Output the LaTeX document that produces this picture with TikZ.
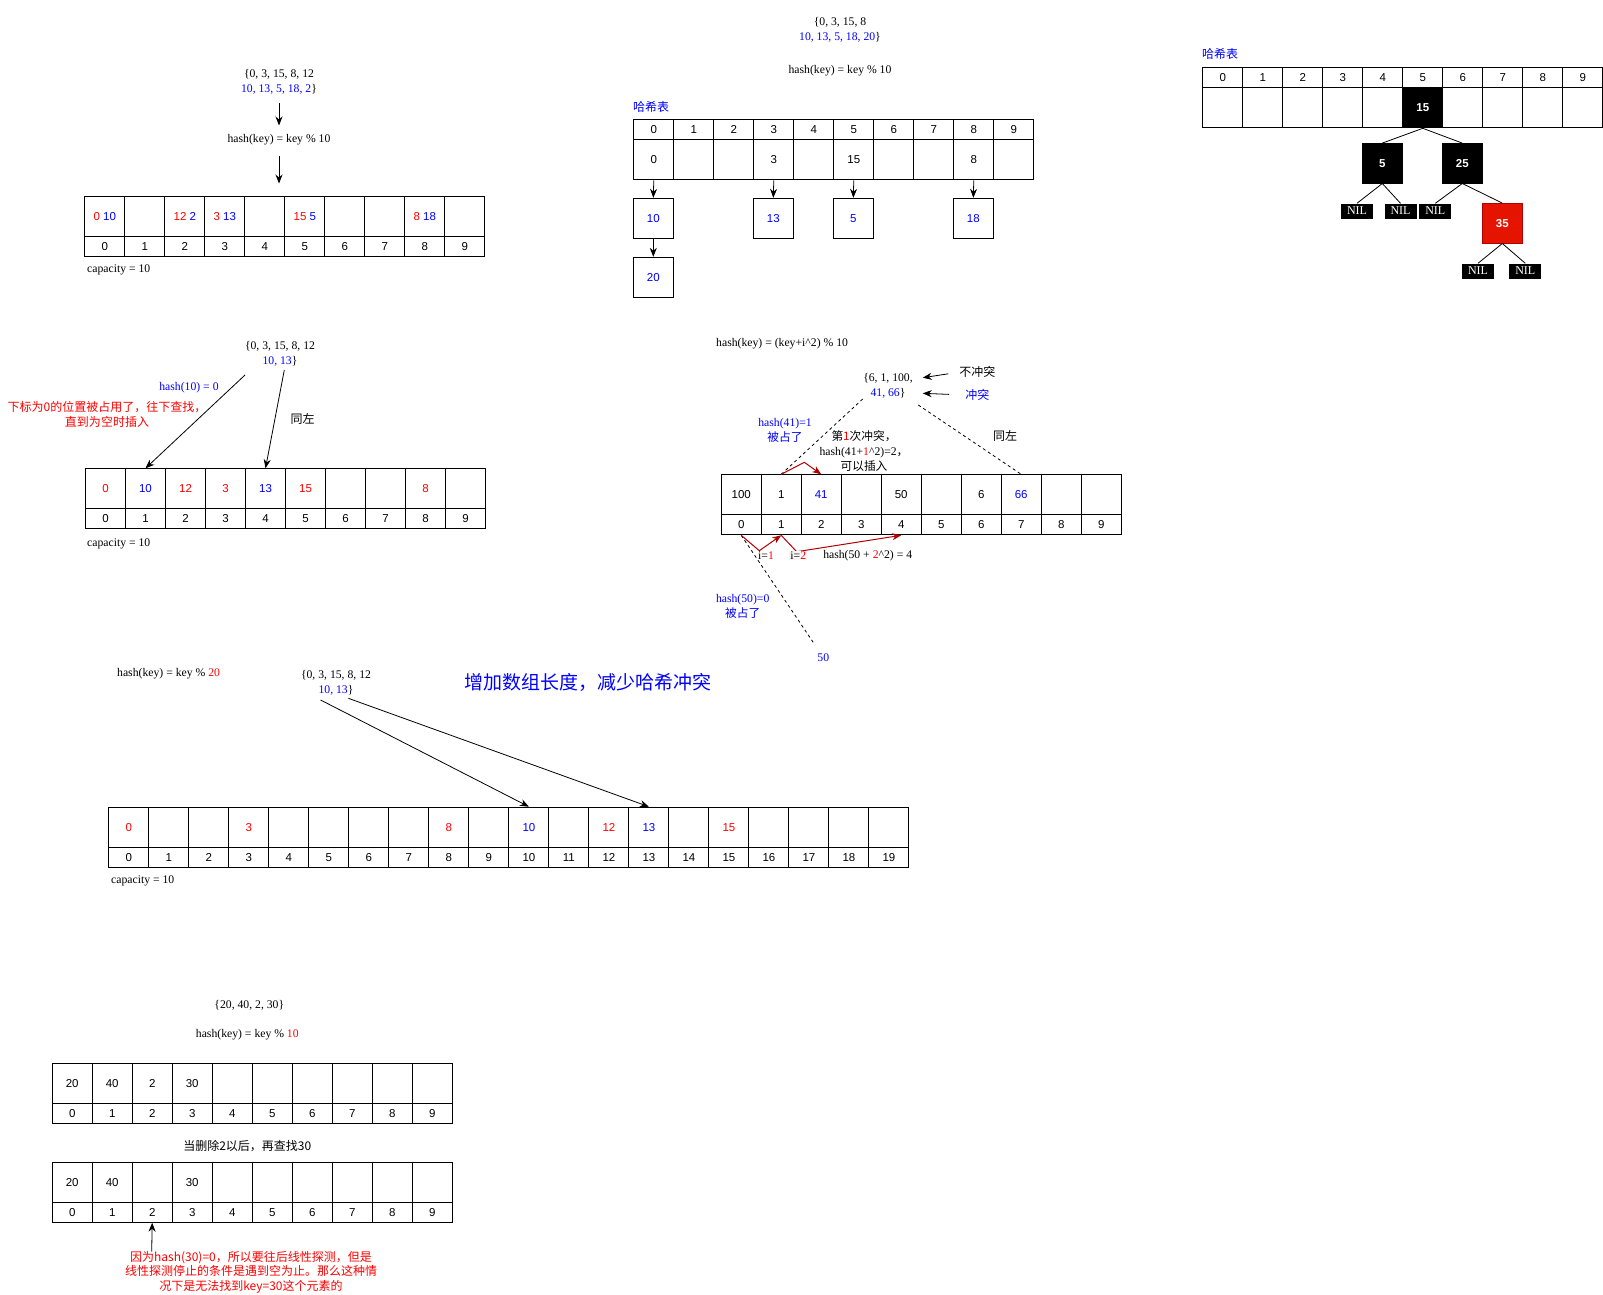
\documentclass[tikz,border=0pt]{standalone}
\usepackage{fontspec}
\setmainfont{Liberation Serif}
\setsansfont{Liberation Sans}
\newfontfamily\cjk{Noto Sans CJK SC}
\usetikzlibrary{arrows.meta}
\definecolor{dBlue}{HTML}{0000FF}
\definecolor{dRed}{HTML}{FF0000}
\definecolor{dkRed}{HTML}{B20000}
\definecolor{rbRed}{HTML}{E51400}
\newcommand\tR[1]{\textcolor{dRed}{#1}}
\newcommand\tB[1]{\textcolor{dBlue}{#1}}
\tikzset{
  lbl/.style={font=\fontsize{11.7}{15}\selectfont, inner sep=1pt, align=center},
  cn/.style={font=\fontsize{12}{14.5}\cjk, inner sep=1pt, align=center},
  vcell/.style={draw, line width=1pt, minimum width=40pt, minimum height=40pt, inner sep=0pt, anchor=north west, font=\sffamily\fontsize{11.5}{14}\selectfont},
  icell/.style={vcell, minimum height=20pt},
  cbox/.style={vcell, anchor=center},
  blk/.style={fill=black, draw=black, text=white, minimum width=40pt, minimum height=40pt, inner sep=0pt, font=\sffamily\bfseries\fontsize{11.5}{14}\selectfont},
  nil/.style={fill=black, text=white, minimum width=32pt, minimum height=15pt, inner sep=0pt, font=\fontsize{12}{12}\selectfont},
  arr/.style={-{Stealth[length=9pt,width=7pt]}, line width=0.8pt},
  rarr/.style={-{Stealth[length=9pt,width=7pt]}, line width=1pt, draw=dkRed},
  dsh/.style={line width=0.8pt, dash pattern=on 3pt off 3pt},
  edge/.style={line width=0.8pt}
}
\begin{document}
\begin{tikzpicture}[x=1pt,y=-1pt]
\fill[white] (0,0) rectangle (1603,1294);
\useasboundingbox (0,0) rectangle (1603,1294);

% ---------------- Section A ----------------
\node[lbl] (setA) at (279,81.5) {\{0, 3, 15, 8, 12\\\tB{10, 13, 5, 18, 2}\}};
\node[lbl] (hashA) at (279,140) {hash(key) = key \% 10};
\coordinate (tA) at (279,183.5);
\draw[arr, shorten <=8pt, shorten >=8pt] (setA) -- (hashA);
\draw[arr, shorten <=9pt] (hashA) -- (tA);
\foreach \i/\v in {0/{\tR{0} \tB{10}},1/{},2/{\tR{12} \tB{2}},3/{\tR{3} \tB{13}},4/{},5/{\tR{15} \tB{5}},6/{},7/{},8/{\tR{8} \tB{18}},9/{}}{
  \node[vcell] (Av\i) at ({84.3+40*\i},195.7) {\v};
  \node[icell] (Ai\i) at ({84.3+40*\i},235.7) {\i};
}
\node[lbl, anchor=west] (capA) at (86,270) {capacity = 10};

% ---------------- Section B ----------------
\node[lbl] (setB) at (840,30) {\{0, 3, 15, 8\\\tB{10, 13, 5, 18, 20}\}};
\node[lbl] (hashB) at (840,71) {hash(key) = key \% 10};
\node[cn, anchor=west, text=dBlue] (titleB) at (632,107) {哈希表};
\foreach \i/\v in {0/0,1/{},2/{},3/3,4/{},5/15,6/{},7/{},8/8,9/{}}{
  \node[icell] (Bi\i) at ({633.3+40*\i},119.3) {\i};
  \node[vcell] (Bv\i) at ({633.3+40*\i},139.3) {\v};
}
\node[cbox] (Bc10) at (653.3,218.3) {\tB{10}};
\node[cbox] (Bc20) at (653.3,277.3) {\tB{20}};
\node[cbox] (Bc13) at (773.3,218.3) {\tB{13}};
\node[cbox] (Bc5) at (853.3,218.3) {\tB{5}};
\node[cbox] (Bc18) at (973.3,218.3) {\tB{18}};
\draw[arr] (Bv0.south) -- (Bc10.north);
\draw[arr] (Bc10.south) -- (Bc20.north);
\draw[arr] (Bv3.south) -- (Bc13.north);
\draw[arr] (Bv5.south) -- (Bc5.north);
\draw[arr] (Bv8.south) -- (Bc18.north);

% ---------------- Section C ----------------
\node[cn, anchor=west, text=dBlue] (titleC) at (1201,54) {哈希表};
\foreach \i in {0,...,9}{
  \node[icell] (Ci\i) at ({1202.3+40*\i},67.3) {\i};
}
\foreach \i in {0,1,2,3,4,6,7,8,9}{
  \node[vcell] (Cv\i) at ({1202.3+40*\i},87.3) {};
}
\node[vcell, blk] (Cv5) at (1402.3,87.3) {15};
\node[blk] (t5) at (1382.3,163.3) {5};
\node[blk] (t25) at (1462.3,163.3) {25};
\node[blk, fill=rbRed, draw=dkRed] (t35) at (1502.3,223.3) {35};
\node[nil] (nil1) at (1357,211) {NIL};
\node[nil] (nil2) at (1400.5,211) {NIL};
\node[nil] (nil3) at (1435.3,211) {NIL};
\node[nil] (nil4) at (1478,271) {NIL};
\node[nil] (nil5) at (1525.3,271) {NIL};
\draw[edge] (Cv5.south) -- (t5.north);
\draw[edge] (Cv5.south) -- (t25.north);
\draw[edge] (t5.south) -- (nil1.north);
\draw[edge] (t5.south) -- (nil2.north);
\draw[edge] (t25.south) -- (nil3.north);
\draw[edge] (t25.south) -- (t35.north);
\draw[edge] (t35.south) -- (nil4.north);
\draw[edge] (t35.south) -- (nil5.north);

% ---------------- Section D ----------------
\node[lbl] (setD) at (280,354) {\{0, 3, 15, 8, 12\\\tB{10, 13}\}};
\node[lbl, text=dBlue] (h10) at (189,387.5) {hash(10) = 0};
\node[cn, text=dRed] (noteD) at (107,414.5) {下标为0的位置被占用了，往下查找，\\直到为空时插入};
\node[cn] (sameD) at (302.7,419) {同左};
\foreach \i/\v in {0/\tR{0},1/\tB{10},2/\tR{12},3/\tR{3},4/\tB{13},5/\tR{15},6/{},7/{},8/\tR{8},9/{}}{
  \node[vcell] (Dv\i) at ({85+40*\i},468.3) {\v};
  \node[icell] (Di\i) at ({85+40*\i},508.3) {\i};
}
\coordinate (sD1) at (245,375);
\coordinate (sD2) at (284.3,370);
\draw[arr] (sD1) -- (Dv1.north);
\draw[arr] (sD2) -- (Dv4.north);
\node[lbl, anchor=west] (capD) at (86,543.5) {capacity = 10};

% ---------------- Section E ----------------
\node[lbl, anchor=west] (hashE) at (715,343.5) {hash(key) = (key+i\textasciicircum2) \% 10};
\node[lbl] (setE) at (888,386) {\{6, 1, 100,\\\tB{41, 66}\}};
\node[cn] (nc) at (977.3,372.3) {不冲突};
\node[cn, text=dBlue] (cf) at (977.3,395) {冲突};
\coordinate (eNC) at (922.7,377.7);
\coordinate (eCF) at (922.7,393.3);
\draw[arr, shorten <=10pt] (nc.west) -- (eNC);
\draw[arr, shorten <=15pt] (cf.west) -- (eCF);
\node[lbl, text=dBlue] (h41) at (785,430.8) {hash(41)=1\\{\cjk 被占了}};
\node[lbl] (firstE) at (864,451) {{\cjk 第\tR{1}次冲突，}\\hash(41+\tR{1}\textasciicircum2)=2{\cjk ，}\\{\cjk 可以插入}};
\node[cn] (sameE) at (1005,435.7) {同左};
\foreach \i/\v in {0/100,1/1,2/\tB{41},3/{},4/50,5/{},6/6,7/\tB{66},8/{},9/{}}{
  \node[vcell] (Ev\i) at ({720.7+40*\i},474.3) {\v};
  \node[icell] (Ei\i) at ({720.7+40*\i},514.3) {\i};
}
\coordinate (dE1) at (862.7,399);
\coordinate (dE2) at (918.3,405);
\coordinate (dE3) at (815,645);
\draw[dsh] (dE1) -- (Ev1.north);
\draw[dsh] (dE2) -- (Ev7.north);
\draw[dsh] (Ei0.south) -- (dE3);
\draw[rarr] (Ev1.north) -- (804.3,462.3) -- (Ev2.north);
\draw[rarr] (Ei0.south) -- (759.3,550.7) -- (Ei1.south);
\draw[rarr] (Ei1.south) -- (796.7,551.7) -- (Ei4.south);
\node[lbl] (i1) at (766,555.5) {i=\tR{1}};
\node[lbl, fill=gray!8] (i2) at (798.3,555.5) {i=\tR{2}};
\node[lbl] (h50) at (867.7,555.5) {hash(50 + \tR{2}\textasciicircum2) = 4};
\node[lbl, text=dBlue] (h50b) at (742.7,606) {hash(50)=0\\{\cjk 被占了}};
\node[lbl, text=dBlue] (n50) at (823.3,658) {50};

% ---------------- Section F ----------------
\node[lbl, anchor=west] (hashF) at (116,674) {hash(key) = key \% \tR{20}};
\node[lbl] (setF) at (336,682.5) {\{0, 3, 15, 8, 12\\\tB{10, 13}\}};
\node[font=\fontsize{19}{22}\cjk, text=dBlue, inner sep=0pt] (bigF) at (587.5,682.3) {增加数组长度，减少哈希冲突};
\foreach \i/\v in {0/\tR{0},1/{},2/{},3/\tR{3},4/{},5/{},6/{},7/{},8/\tR{8},9/{},10/\tB{10},11/{},12/\tR{12},13/\tB{13},14/{},15/\tR{15},16/{},17/{},18/{},19/{}}{
  \node[vcell] (Fv\i) at ({108.4+40*\i},806.7) {\v};
  \node[icell] (Fi\i) at ({108.4+40*\i},846.7) {\i};
}
\coordinate (sF1) at (320.6,700);
\coordinate (sF2) at (348.4,698.3);
\draw[arr] (sF1) -- (Fv10.north);
\draw[arr] (sF2) -- (Fv13.north);
\node[lbl, anchor=west] (capF) at (110,881) {capacity = 10};

% ---------------- Section G ----------------
\node[lbl] (setG) at (249.3,1005) {\{20, 40, 2, 30\}};
\node[lbl] (hashG) at (247.3,1035) {hash(key) = key \% \tR{10}};
\foreach \i/\v in {0/20,1/40,2/2,3/30,4/{},5/{},6/{},7/{},8/{},9/{}}{
  \node[vcell] (Gv\i) at ({51.7+40*\i},1063.3) {\v};
  \node[icell] (Gi\i) at ({51.7+40*\i},1103.3) {\i};
}
\node[cn] (delG) at (247.3,1145.7) {当删除2以后，再查找30};
\foreach \i/\v in {0/20,1/40,2/{},3/30,4/{},5/{},6/{},7/{},8/{},9/{}}{
  \node[vcell] (Hv\i) at ({51.7+40*\i},1161.7) {\v};
  \node[icell] (Hi\i) at ({51.7+40*\i},1201.7) {\i};
}
\coordinate (sG) at (151.7,1251.7);
\draw[arr] (sG) -- (Hi2.south);
\node[cn, text=dRed] (noteG) at (251,1272.3) {因为hash(30)=0，所以要往后线性探测，但是\\线性探测停止的条件是遇到空为止。那么这种情\\况下是无法找到key=30这个元素的};
\end{tikzpicture}
\end{document}
